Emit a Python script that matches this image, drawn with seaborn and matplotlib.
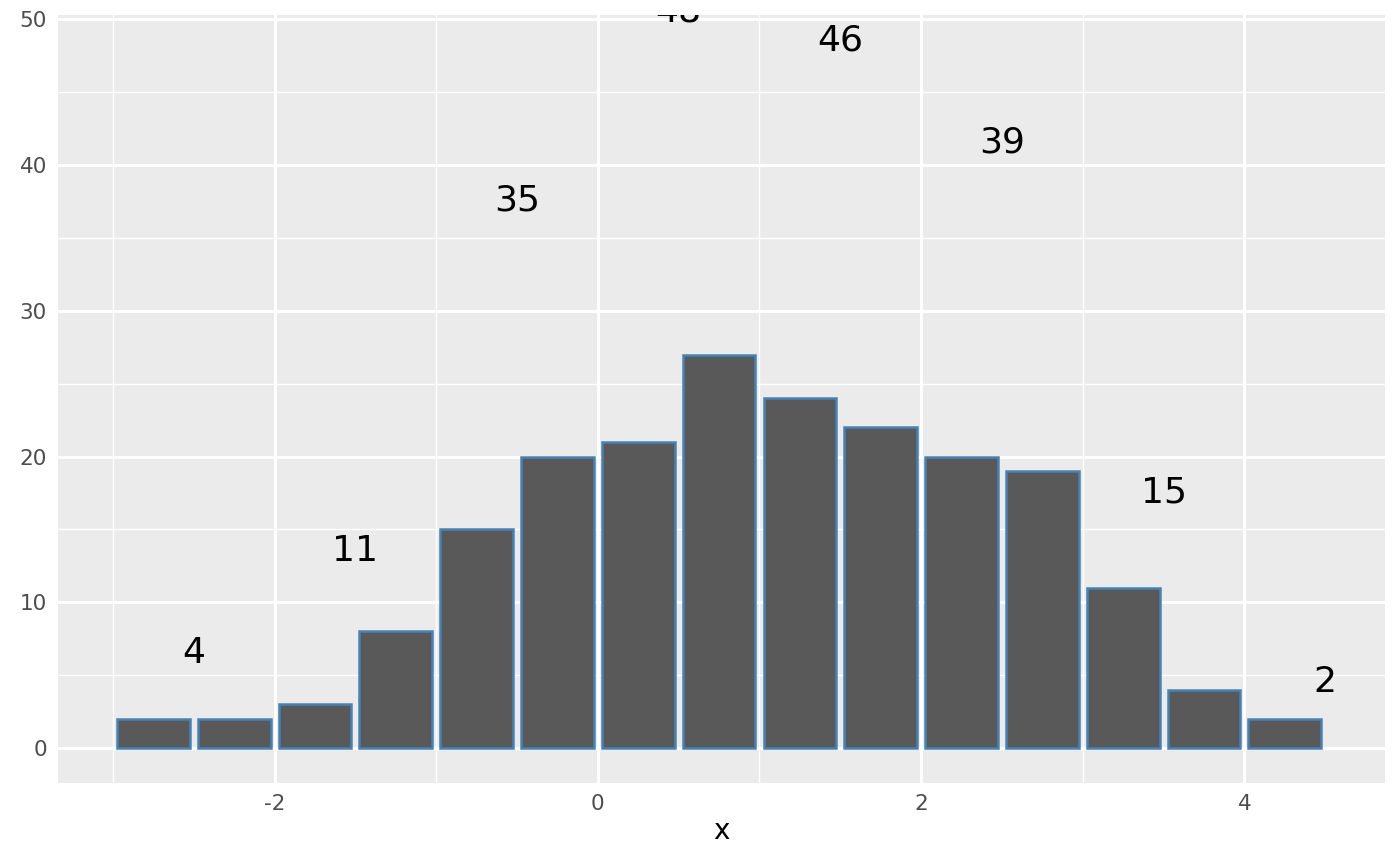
import numpy as np
import pandas as pd
import matplotlib
matplotlib.use("Agg")
import matplotlib.pyplot as plt
import seaborn as sns

# histogram bins (centres, width 0.5) and their counts
bin_centres = [-2.75, -2.25, -1.75, -1.25, -0.75, -0.25, 0.25, 0.75,
               1.25, 1.75, 2.25, 2.75, 3.25, 3.75, 4.25]
counts = [2, 2, 3, 8, 15, 20, 21, 27, 24, 22, 20, 19, 11, 4, 2]

# labels: counts summed over pairs of bins, placed at pair centres
label_x = [-2.5, -1.5, -0.5, 0.5, 1.5, 2.5, 3.5, 4.5]
label_vals = [4, 11, 35, 48, 46, 39, 15, 2]

df = pd.DataFrame({"x": bin_centres, "count": counts})

sns.set_theme(style="darkgrid")
plt.rcParams["font.family"] = ["DejaVu Sans"]

fig, ax = plt.subplots(figsize=(14, 8.66), dpi=100)
fig.subplots_adjust(left=0.0414, right=0.9893, top=0.9827, bottom=0.0958)

ax.set_facecolor("#EBEBEB")
ax.set_axisbelow(True)

sns.barplot(data=df, x="x", y="count", native_scale=True, width=0.9,
            color="#595959", saturation=1, edgecolor="#4682B4",
            linewidth=1.8, ax=ax)

for xv, v in zip(label_x, label_vals):
    ax.text(xv, v + 2.55, str(v), ha="center", va="center", fontsize=26,
            color="black", clip_on=True)

ax.set_xlim(-3.34, 4.87)
ax.set_ylim(-2.4, 50.3)
ax.set_xticks([-2, 0, 2, 4])
ax.set_xticklabels(["-2", "0", "2", "4"])
ax.set_xticks([-3, -1, 1, 3], minor=True)
ax.set_yticks([0, 10, 20, 30, 40, 50])
ax.set_yticks([5, 15, 25, 35, 45], minor=True)

ax.grid(which="major", color="white", linewidth=2.1)
ax.grid(which="minor", color="white", linewidth=1.0)
for s in ax.spines.values():
    s.set_visible(False)

ax.tick_params(which="major", length=5, width=1.2, color="#333333",
               labelsize=15.5, labelcolor="#4D4D4D", pad=3)
ax.tick_params(which="minor", length=0)
ax.set_xlabel("x", fontsize=20, color="black", labelpad=2)
ax.set_ylabel("")

fig.savefig("out.png", dpi=100)
